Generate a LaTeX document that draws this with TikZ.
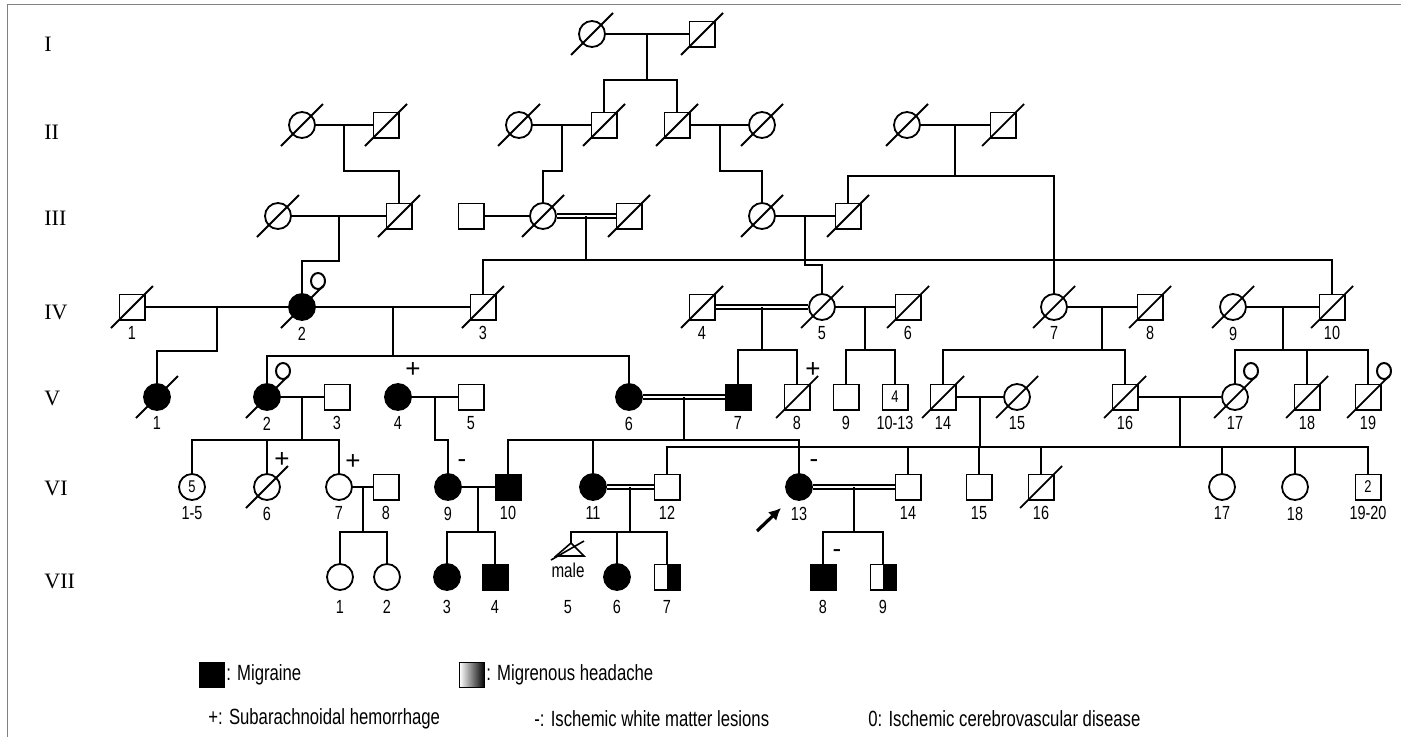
\documentclass[tikz,border=0pt]{standalone}
\usepackage{fontspec}
\setmainfont{Liberation Serif}
\newfontfamily\numfont[FakeStretch=0.76]{Liberation Sans}
\newfontfamily\markfont{Liberation Sans}
\usetikzlibrary{positioning,arrows.meta,calc}

\tikzset{
  male/.style={draw, rectangle, minimum size=12.6pt, inner sep=0pt, line width=0.9pt},
  female/.style={draw, circle, minimum size=13pt, inner sep=0pt, line width=0.9pt},
  aff/.style={fill=black},
  half/.style={path picture={\fill[black] (path picture bounding box.south) rectangle (path picture bounding box.north east);}},
  num/.style={font=\numfont\fontsize{9.5}{10}\selectfont, inner sep=0pt},
  inner/.style={font=\numfont\fontsize{8.5}{9}\selectfont},
  lb/.style={label={[num, label distance=2.8pt]below:#1}},
  lbb/.style={label={[num, label distance=4.6pt]below:#1}},
  mk/.style={font=\markfont\fontsize{13}{13}\selectfont, inner sep=0pt},
  mate/.style={line width=1.3pt},
  desc/.style={line width=1pt},
  cons/.style={double, double distance=1.2pt, line width=0.7pt},
  gen/.style={font=\fontsize{11}{12}\selectfont, anchor=west, inner sep=0pt},
  legtext/.style={font=\numfont\fontsize{11}{12}\selectfont, inner sep=0pt, anchor=west},
}
\newcommand{\dead}[1]{\draw[line width=0.9pt] ($(#1.center)+(-21,21)$) -- ($(#1.center)+(21,-21)$);}
\newcommand{\zero}[1]{\draw[line width=1pt] ($(#1.center)+(16,-26)$) ellipse (3.5pt and 4pt);}

\begin{document}
\begin{tikzpicture}[x=0.5pt, y=-0.5pt]
\useasboundingbox (0,0) rectangle (1401,740);
\draw[gray, line width=0.9pt] (1401,4.5) -- (7.5,4.5) -- (7.5,737);

% generations
\node[gen] (gI) at (44,44) {I};
\node[gen] (gII) at (44,132) {II};
\node[gen] (gIII) at (44,218) {III};
\node[gen] (gIV) at (44,312) {IV};
\node[gen] (gV) at (44,398) {V};
\node[gen] (gVI) at (44,488) {VI};
\node[gen] (gVII) at (44,581) {VII};

% I
\node[female] (i1) at (592,34) {};
\node[male] (i2) at (702,34) {};
% II
\node[female] (ii1) at (302,125) {};
\node[male] (ii2) at (386,125) {};
\node[female] (ii3) at (519,125) {};
\node[male] (ii4) at (604,125) {};
\node[male] (ii5) at (677,125) {};
\node[female] (ii6) at (762,125) {};
\node[female] (ii7) at (907,125) {};
\node[male] (ii8) at (1003,125) {};
% III
\node[female] (iii1) at (278,216) {};
\node[male] (iii2) at (399,216) {};
\node[male] (iii3) at (471,216) {};
\node[female] (iii4) at (543,216) {};
\node[male] (iii5) at (629,216) {};
\node[female] (iii6) at (762,216) {};
\node[male] (iii7) at (848,216) {};
% IV
\node[male, lb=1] (iv1) at (132,307) {};
\node[female, aff, lb=2] (iv2) at (302,307) {};
\node[male, lb=3] (iv3) at (483,307) {};
\node[male, lb=4] (iv4) at (702,307) {};
\node[female, lb=5] (iv5) at (822,307) {};
\node[male, lb=6] (iv6) at (908,307) {};
\node[female, lb=7] (iv7) at (1054,307) {};
\node[male, lb=8] (iv8) at (1150,307) {};
\node[female, lb=9] (iv9) at (1233,307) {};
\node[male, lb=10] (iv10) at (1332,307) {};
% V
\node[female, aff, lb=1] (v1) at (157,397) {};
\node[female, aff, lb=2] (v2) at (267,397) {};
\node[male, lb=3] (v3) at (337,397) {};
\node[female, aff, lb=4] (v4) at (398,397) {};
\node[male, lb=5] (v5) at (471,397) {};
\node[female, aff, lb=6] (v6) at (629,397) {};
\node[male, aff, lb=7] (v7) at (738,397) {};
\node[male, lb=8] (v8) at (797,397) {};
\node[male, lb=9] (v9) at (846,397) {};
\node[male, inner, lb=10-13] (v10) at (895,397) {4};
\node[male, lb=14] (v14) at (943,397) {};
\node[female, lb=15] (v15) at (1017,397) {};
\node[male, lb=16] (v16) at (1125,397) {};
\node[female, lb=17] (v17) at (1235,397) {};
\node[male, lb=18] (v18) at (1307,397) {};
\node[male, lb=19] (v19) at (1368,397) {};
% VI
\node[female, inner, lb=1-5] (vi1) at (192,487) {5};
\node[female, lb=6] (vi6) at (267,487) {};
\node[female, lb=7] (vi7) at (339,487) {};
\node[male, lb=8] (vi8) at (386,487) {};
\node[female, aff, lb=9] (vi9) at (448,487) {};
\node[male, aff, lb=10] (vi10) at (508,487) {};
\node[female, aff, lb=11] (vi11) at (593,487) {};
\node[male, lb=12] (vi12) at (667,487) {};
\node[female, aff, lb=13] (vi13) at (799,487) {};
\node[male, lb=14] (vi14) at (908,487) {};
\node[male, lb=15] (vi15) at (979,487) {};
\node[male, lb=16] (vi16) at (1041,487) {};
\node[female, lb=17] (vi17) at (1222,487) {};
\node[female, lb=18] (vi18) at (1295,487) {};
\node[male, inner, lb=19-20] (vi19) at (1368,487) {2};
% VII
\node[female, lbb=1] (vii1) at (340,577) {};
\node[female, lbb=2] (vii2) at (387,577) {};
\node[female, aff, lbb=3] (vii3) at (447,577) {};
\node[male, aff, lbb=4] (vii4) at (495,577) {};
\coordinate (vii5) at (571,543);
\draw[line width=0.8pt] (vii5) -- (556,556) -- (584,556) -- cycle;
\draw[line width=0.8pt] (551,560) -- (584,541);
\node[num, font=\numfont\fontsize{10}{10}\selectfont] (male5) at (568,570) {male};
\node[num] (n5) at (568,607) {5};
\node[female, aff, lbb=6] (vii6) at (617,577) {};
\node[male, half, lbb=7] (vii7) at (667,577) {};
\node[male, aff, lbb=8] (vii8) at (823,577) {};
\node[male, half, lbb=9] (vii9) at (883,577) {};

% deceased
\foreach \p in {i1,i2,ii1,ii2,ii3,ii4,ii5,ii6,ii7,ii8,iii1,iii2,iii4,iii5,iii6,iii7,
  iv1,iv2,iv3,iv4,iv5,iv6,iv7,iv8,iv9,iv10,v1,v2,v8,v14,v15,v16,v17,v18,v19,vi6,vi16}
  {\dead{\p}}

% markers
\foreach \p in {iv2,v2,v17,v19} {\zero{\p}}
\node[mk] (pv4) at ($(v4.center)+(15,-27)$) {+};
\node[mk] (pv8) at ($(v8.center)+(16,-27)$) {+};
\node[mk] (pvi6) at ($(vi6.center)+(15,-27)$) {+};
\node[mk] (pvi7) at ($(vi7.center)+(14,-25)$) {+};
\node[mk] (mvi9) at ($(vi9.center)+(14,-23)$) {-};
\node[mk] (mvi13) at ($(vi13.center)+(15,-23)$) {-};
\node[mk] (mvii8) at ($(vii8.center)+(14,-23)$) {-};

% proband
\coordinate (arrt) at (757,531);
\coordinate (arrh) at (781,508);
\draw[line width=1.6pt, -{Latex[length=6pt,width=6pt]}] (arrt) -- (arrh);

% I
\draw[mate] (i1) -- (i2);
\draw[desc] ($(i1)!.5!(i2)$) -- ++(0,46) coordinate (s1);
\draw[desc] (ii4) |- (s1) -| (ii5);
% II
\draw[mate] (ii1) -- (ii2);
\draw[desc] ($(ii1)!.5!(ii2)$) -- ++(0,46) -| (iii2);
\draw[mate] (ii3) -- (ii4);
\draw[desc] ($(ii3)!.5!(ii4)$) -- ++(0,46) -| (iii4);
\draw[mate] (ii5) -- (ii6);
\draw[desc] ($(ii5)!.5!(ii6)$) -- ++(0,46) -| (iii6);
\draw[mate] (ii7) -- (ii8);
\draw[desc] ($(ii7)!.5!(ii8)$) -- ++(0,51) coordinate (s2);
\draw[desc] (iii7) |- (s2) -| (iv7);
% III
\draw[desc] (iii1) -- (iii2);
\draw[desc] ($(iii1)!.5!(iii2)$) -- ++(0,45) -| (iv2);
\draw[desc] (iii3) -- (iii4);
\draw[cons] (iii4) -- (iii5);
\draw[desc] ($(iii4)!.5!(iii5)$) -- ++(0,44) coordinate (s3);
\draw[desc] (iv3) |- (s3) -| (iv10);
\draw[desc] (iii6) -- (iii7);
\draw[desc] ($(iii6)!.5!(iii7)$) -- ++(0,49) -| (iv5);
% IV
\draw[mate] (iv1) -- (iv2) -- (iv3);
\draw[desc] ($(iv1)!.5!(iv2)$) -- ++(0,44) -| (v1);
\draw[desc] ($(iv2)!.5!(iv3)$) -- ++(0,49) coordinate (s4);
\draw[desc] (v2) |- (s4) -| (v6);
\draw[cons] (iv4) -- (iv5);
\draw[desc] ($(iv4)!.5!(iv5)$) -- ++(0,43) coordinate (s5);
\draw[desc] (v7) |- (s5) -| (v8);
\draw[mate] (iv5) -- (iv6);
\draw[desc] ($(iv5)!.5!(iv6)$) -- ++(0,43) coordinate (s6);
\draw[desc] (v9) |- (s6) -| (v10);
\draw[mate] (iv7) -- (iv8);
\draw[desc] ($(iv7)!.5!(iv8)$) -- ++(0,43) coordinate (s7);
\draw[mate] (v14) |- (s7) -| (v16);
\draw[mate] (iv9) -- (iv10);
\draw[desc] ($(iv9)!.5!(iv10)$) -- ++(0,43) coordinate (s8);
\draw[desc] (v17) |- (s8) -| (v19);
\draw[desc] (v18 |- s8) -- (v18);
% V
\draw[desc] (v2) -- (v3);
\draw[desc] ($(v2)!.5!(v3)$) -- ++(0,43) coordinate (s9);
\draw[desc] (vi1) |- (s9) -| (vi7);
\draw[desc] (vi6 |- s9) -- (vi6);
\draw[desc] (v4) -- (v5);
\draw[desc] ($(v4)!.5!(v5)$) -- ++(0,43) -| (vi9);
\draw[double, double distance=0.7pt, line width=1pt] (v6) -- (v7);
\draw[desc] ($(v6)!.5!(v7)$) -- ++(0,43) coordinate (s10);
\draw[desc] (vi10) |- (s10) -| (vi13);
\draw[desc] (vi11 |- s10) -- (vi11);
\draw[desc] (v14) -- (v15);
\draw[desc] ($(v14)!.5!(v15)$) -- ++(0,50) coordinate (s11);
\draw[desc] (v16) -- (v17);
\draw[desc] ($(v16)!.5!(v17)$) -- ++(0,50);
\draw[desc] (vi12) |- (s11) -| (vi19);
\draw[mate] (vi14 |- s11) -- (vi16 |- s11);
\foreach \c in {vi14,vi15,vi16,vi17,vi18}
  \draw[desc] (\c |- s11) -- (\c);
% VI
\draw[desc] (vi7) -- (vi8);
\draw[desc] ($(vi7)!.5!(vi8)$) -- ++(0,45) coordinate (s13);
\draw[desc] (vii1) |- (s13) -| (vii2);
\draw[mate] (vi9) -- (vi10);
\draw[desc] ($(vi9)!.5!(vi10)$) -- ++(0,45) coordinate (s14);
\draw[desc] (vii3) |- (s14) -| (vii4);
\draw[cons] (vi11) -- (vi12);
\draw[desc] ($(vi11)!.5!(vi12)$) -- ++(0,45) coordinate (s15);
\draw[desc] (vii5) |- (s15) -| (vii7);
\draw[desc] (vii6 |- s15) -- (vii6);
\draw[cons] (vi13) -- (vi14);
\draw[desc] ($(vi13)!.5!(vi14)$) -- ++(0,45) coordinate (s16);
\draw[desc] (vii8) |- (s16) -| (vii9);

% legend
\node[draw, fill=black, minimum size=12.5pt, inner sep=0pt] (kmig) at (212,675) {};
\node[legtext, right=0.5pt of kmig] (tmig) {: Migraine};
\node[draw, left color=white, right color=black, minimum size=12.5pt, inner sep=0pt] (khead) at (472,675) {};
\node[legtext, right=0.5pt of khead] (thead) {: Migrenous headache};
\node[legtext] (tsah) at (208,719) {+: Subarachnoidal hemorrhage};
\node[legtext] (twml) at (534,719) {-: Ischemic white matter lesions};
\node[legtext] (tcvd) at (868,719) {0: Ischemic cerebrovascular disease};
\end{tikzpicture}
\end{document}
